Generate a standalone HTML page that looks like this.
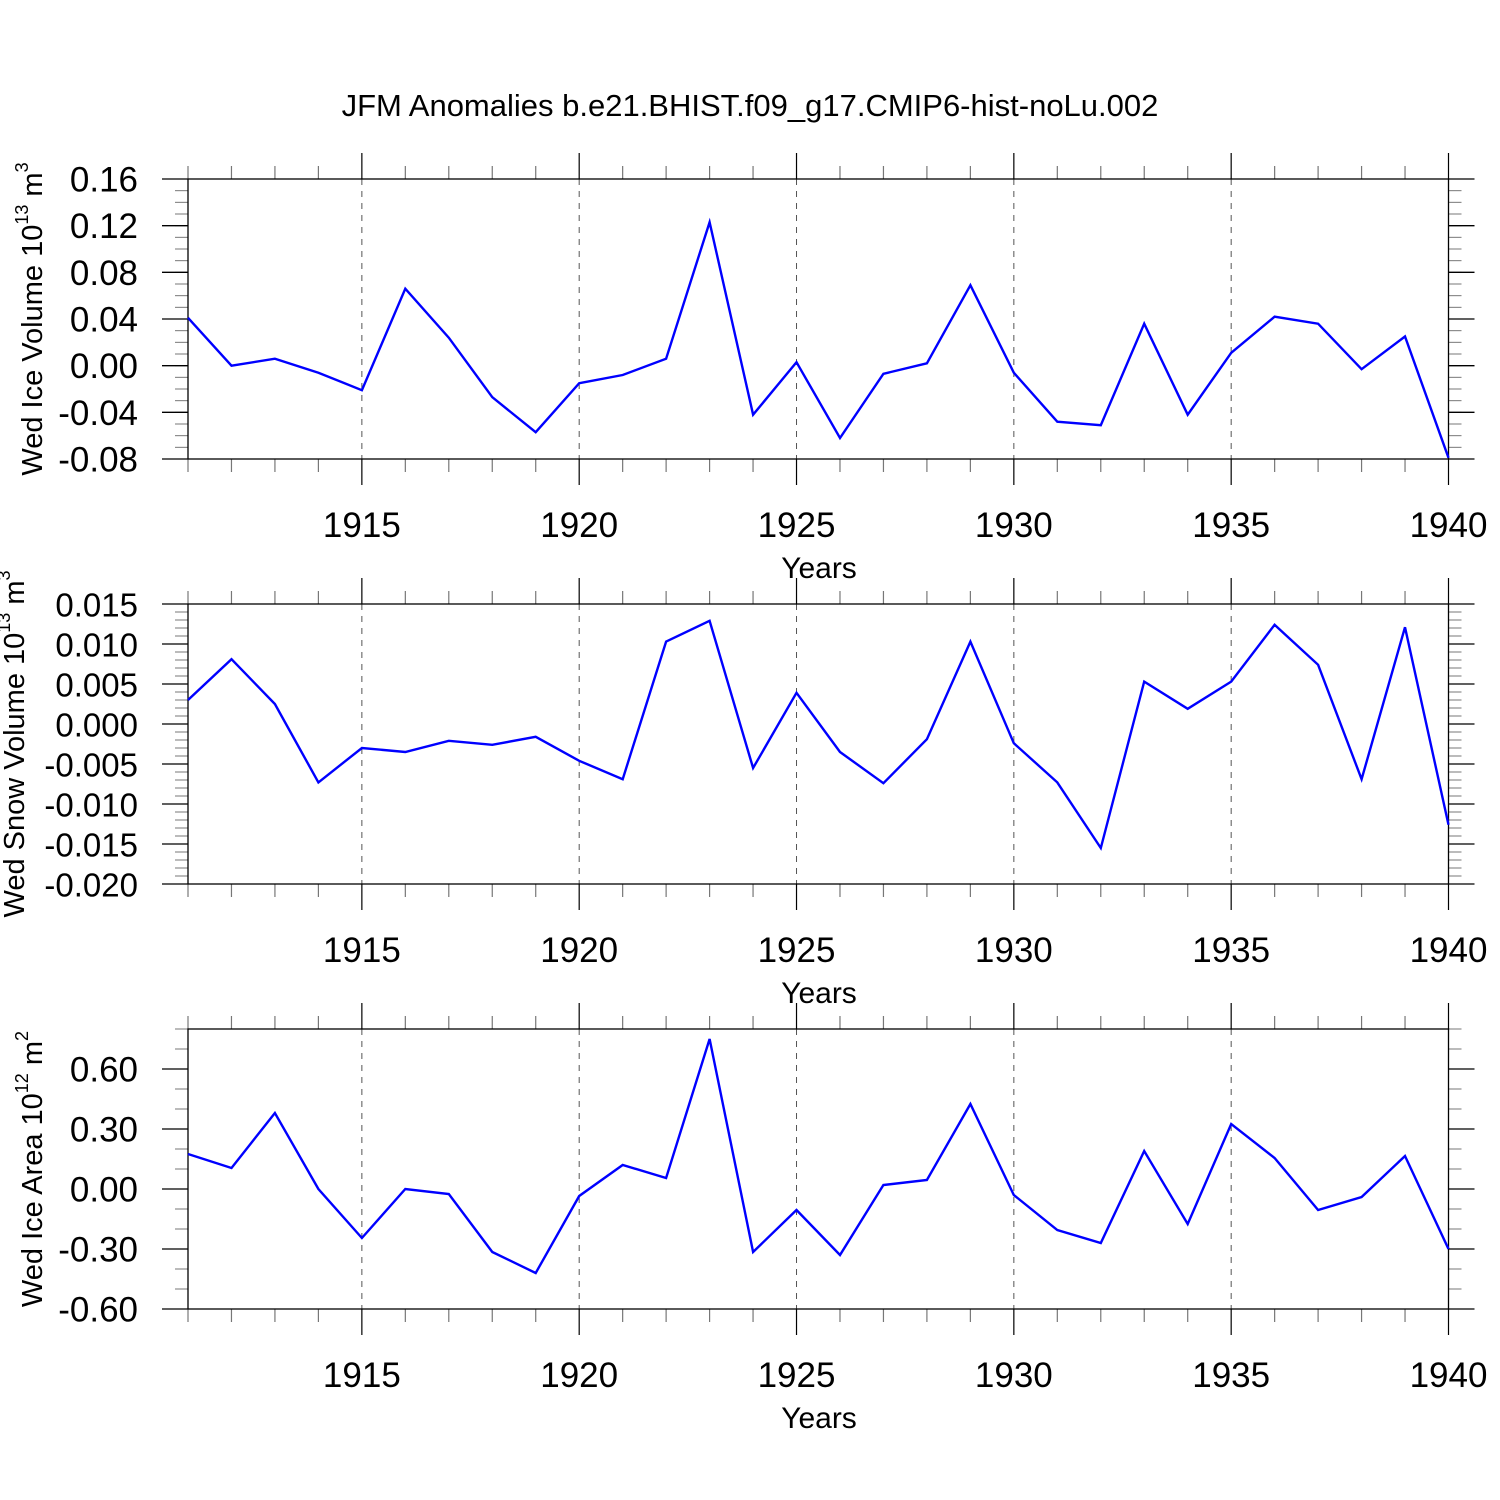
<!DOCTYPE html>
<html><head><meta charset="utf-8"><style>
html,body{margin:0;padding:0;background:#fff}
svg{display:block;font-family:"Liberation Sans",sans-serif}
</style></head><body>
<svg id="chart" width="1500" height="1500" viewBox="0 0 1500 1500">
<text x="750" y="116" text-anchor="middle" font-size="31">JFM Anomalies b.e21.BHIST.f09_g17.CMIP6-hist-noLu.002</text>
</svg>
<script>
const years = [1911,1912,1913,1914,1915,1916,1917,1918,1919,1920,1921,1922,1923,1924,1925,1926,1927,1928,1929,1930,1931,1932,1933,1934,1935,1936,1937,1938,1939,1940];
const iceVolume = [0.041,0.000,0.006,-0.006,-0.021,0.066,0.024,-0.027,-0.057,-0.015,-0.008,0.006,0.123,-0.042,0.003,-0.062,-0.007,0.002,0.069,-0.006,-0.048,-0.051,0.036,-0.042,0.011,0.042,0.036,-0.003,0.025,-0.079];
const snowVolume = [0.0030,0.0081,0.0025,-0.0073,-0.0030,-0.0035,-0.0021,-0.0026,-0.0016,-0.0046,-0.0069,0.0103,0.0129,-0.0055,0.0039,-0.0035,-0.0074,-0.0019,0.0103,-0.0024,-0.0073,-0.0155,0.0053,0.0019,0.0053,0.0124,0.0074,-0.0069,0.0121,-0.0126];
const iceArea = [0.175,0.105,0.38,0.0,-0.245,0.0,-0.025,-0.315,-0.42,-0.035,0.12,0.055,0.75,-0.315,-0.105,-0.33,0.02,0.045,0.425,-0.03,-0.205,-0.27,0.19,-0.175,0.325,0.155,-0.105,-0.04,0.165,-0.3];
const xMajorTicks = [1915,1920,1925,1930,1935,1940];
const iceVolumeTicks = ["0.16","0.12","0.08","0.04","0.00","-0.04","-0.08"];
const snowVolumeTicks = ["0.015","0.010","0.005","0.000","-0.005","-0.010","-0.015","-0.020"];
const iceAreaTicks = ["0.60","0.30","0.00","-0.30","-0.60"];

const NS="http://www.w3.org/2000/svg";
const svg=document.getElementById('chart');
const X0=188,X1=1448.5,Y0=1911,Y1=1940;
function xs(v){return X0+(v-Y0)/(Y1-Y0)*(X1-X0);}
function mk(tag,attrs,parent){const e=document.createElementNS(NS,tag);for(const k in attrs)e.setAttribute(k,attrs[k]);(parent||svg).appendChild(e);return e;}

function panel(cfg){
  const g=mk('g',{});
  
  
  const top=cfg.top,bot=cfg.top+280;
  const ys=v=>bot-(v-cfg.min)/(cfg.max-cfg.min)*280;
  xMajorTicks.forEach(y=>{ if(y<Y1){const l=mk('line',{x1:xs(y),x2:xs(y),y1:top,y2:bot,stroke:'#555','stroke-width':1,'stroke-dasharray':'6,6'},g);
    
    }});
  const nMinor=Math.round((cfg.max-cfg.min)/cfg.minor);
  for(let i=0;i<=nMinor;i++){const v=cfg.min+i*cfg.minor;const y=ys(v);
    mk('line',{x1:X0-13,x2:X0,y1:y,y2:y,stroke:'#777','stroke-width':1},g);
    mk('line',{x1:X1,x2:X1+13,y1:y,y2:y,stroke:'#777','stroke-width':1},g);}
  cfg.ticks.forEach(t=>{const y=ys(parseFloat(t));
    mk('line',{x1:X0-26,x2:X0,y1:y,y2:y,stroke:'#000','stroke-width':1.3},g);
    mk('line',{x1:X1,x2:X1+26,y1:y,y2:y,stroke:'#000','stroke-width':1.3},g);
    const tx=mk('text',{x:138,y:y+12.5,'text-anchor':'end','font-size':cfg.tickSize},g);tx.textContent=t;
    
    });
  years.forEach(yr=>{const x=xs(yr);const major=xMajorTicks.includes(yr);const L=major?26:13;
    mk('line',{x1:x,x2:x,y1:top-L,y2:top,stroke:major?'#000':'#777','stroke-width':1.2},g);
    mk('line',{x1:x,x2:x,y1:bot,y2:bot+L,stroke:major?'#000':'#777','stroke-width':1.2},g);});
  xMajorTicks.forEach(yr=>{const t=mk('text',{x:xs(yr),y:bot+78,'text-anchor':'middle','font-size':35},g);t.textContent=yr;
    
    });
  const xt=mk('text',{x:819,y:bot+119,'text-anchor':'middle','font-size':30},g);xt.textContent='Years';
  
  
  const fr=mk('rect',{x:X0,y:top,width:X1-X0,height:280,fill:'none',stroke:'#000','stroke-width':1.3},g);
  
  
  const yt=mk('text',{x:0,y:0,'text-anchor':'middle','font-size':29,transform:`translate(${cfg.titleX},${top+cfg.titleOff}) rotate(-90)`},g);
  yt.innerHTML=cfg.title;
  
  
  const pts=cfg.data.map((v,i)=>xs(years[i]).toFixed(1)+','+ys(v).toFixed(1)).join(' ');
  const pl=mk('polyline',{points:pts,fill:'none',stroke:'#0000ff','stroke-width':2.4,'stroke-linejoin':'miter'},g);
  
  
}
panel({name:'ice-volume-panel',top:179,min:-0.08,max:0.16,minor:0.01,ticks:iceVolumeTicks,data:iceVolume,titleOff:140,titleX:42,tickSize:35,
  title:'Wed Ice Volume 10<tspan font-size="18" dy="-14">13</tspan><tspan dy="14"> m</tspan><tspan font-size="18" dy="-14">3</tspan>'});
panel({name:'snow-volume-panel',top:604,min:-0.020,max:0.015,minor:0.001,ticks:snowVolumeTicks,data:snowVolume,titleOff:140,titleX:24,tickSize:33,
  title:'Wed Snow Volume 10<tspan font-size="18" dy="-14">13</tspan><tspan dy="14"> m</tspan><tspan font-size="18" dy="-14">3</tspan>'});
panel({name:'ice-area-panel',top:1029,min:-0.6,max:0.8,minor:0.1,ticks:iceAreaTicks,data:iceArea,titleOff:140,titleX:42,tickSize:35,
  title:'Wed Ice Area 10<tspan font-size="18" dy="-14">12</tspan><tspan dy="14"> m</tspan><tspan font-size="18" dy="-14">2</tspan>'});
</script>
</body></html>
